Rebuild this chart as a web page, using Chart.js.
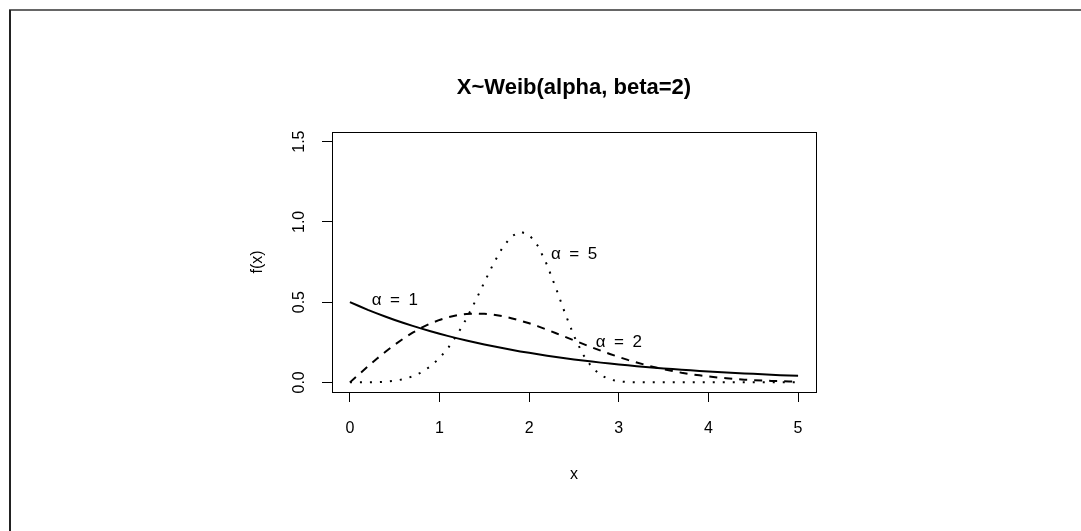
<!DOCTYPE html>
<html>
<head>
<meta charset="utf-8">
<script src="https://cdn.jsdelivr.net/npm/chart.js@4.4.0/dist/chart.umd.min.js"></script>
<style>
body { margin: 0; background: #fff; }
#weibull { display: block; }
</style>
</head>
<body>
<canvas id="weibull" width="1081" height="531"></canvas>
<script>
// valeurs de x (0 a 5)
const xs = [0, 0.1, 0.2, 0.3, 0.4, 0.5, 0.6, 0.7, 0.8, 0.9,
  1.0, 1.1, 1.2, 1.3, 1.4, 1.5, 1.6, 1.7, 1.8, 1.9,
  2.0, 2.1, 2.2, 2.3, 2.4, 2.5, 2.6, 2.7, 2.8, 2.9,
  3.0, 3.1, 3.2, 3.3, 3.4, 3.5, 3.6, 3.7, 3.8, 3.9,
  4.0, 4.1, 4.2, 4.3, 4.4, 4.5, 4.6, 4.7, 4.8, 4.9, 5.0];

// densites
const densAlpha1 = [0.500, 0.476, 0.452, 0.430, 0.409, 0.389, 0.370, 0.352, 0.335, 0.319,
  0.303, 0.288, 0.274, 0.261, 0.248, 0.236, 0.225, 0.214, 0.203, 0.193,
  0.184, 0.175, 0.166, 0.158, 0.151, 0.143, 0.136, 0.130, 0.123, 0.117,
  0.112, 0.106, 0.101, 0.096, 0.091, 0.087, 0.083, 0.079, 0.075, 0.071,
  0.068, 0.064, 0.061, 0.058, 0.055, 0.053, 0.050, 0.048, 0.045, 0.043, 0.041];
const densAlpha2 = [0.000, 0.050, 0.099, 0.147, 0.192, 0.235, 0.274, 0.310, 0.341, 0.368,
  0.389, 0.406, 0.419, 0.426, 0.429, 0.427, 0.422, 0.413, 0.400, 0.385,
  0.368, 0.349, 0.328, 0.306, 0.284, 0.262, 0.240, 0.218, 0.197, 0.177,
  0.158, 0.140, 0.124, 0.108, 0.095, 0.082, 0.071, 0.060, 0.051, 0.044,
  0.037, 0.031, 0.026, 0.021, 0.017, 0.014, 0.012, 0.009, 0.008, 0.006, 0.005];
const densAlpha5 = [0.000, 0.000, 0.000, 0.001, 0.004, 0.010, 0.020, 0.037, 0.063, 0.101,
  0.151, 0.218, 0.300, 0.397, 0.507, 0.624, 0.738, 0.837, 0.909, 0.939,
  0.920, 0.848, 0.731, 0.585, 0.431, 0.289, 0.174, 0.094, 0.044, 0.018,
  0.006, 0.002, 0.001, 0.000, 0.000, 0.000, 0.000, 0.000, 0.000, 0.000,
  0.000, 0.000, 0.000, 0.000, 0.000, 0.000, 0.000, 0.000, 0.000, 0.000, 0.000];

const xTicks = [0, 1, 2, 3, 4, 5];
const yTicks = [0, 0.5, 1.0, 1.5];

const titre = "X~Weib(alpha, beta=2)";

// etiquettes des courbes
const curveLabels = ["\u03B1\u2002=\u20021", "\u03B1\u2002=\u20025", "\u03B1\u2002=\u20022"];
const curveLabelX = [0.50, 2.50, 3.00];
const curveLabelY = [0.51, 0.80, 0.25];

const police = "'Liberation Sans', Arial, Helvetica, sans-serif";

function toPoints(ys) {
    return xs.map((x, i) => ({ x: x, y: ys[i] }));
}

// cadre de la page + boite du graphique + titre + etiquettes
const decor = {
    id: "decor",
    beforeDraw(chart) {
        const ctx = chart.ctx;
        ctx.save();
        ctx.fillStyle = "#fff";
        ctx.fillRect(0, 0, chart.width, chart.height);
        ctx.strokeStyle = "#666";
        ctx.lineWidth = 2;
        ctx.beginPath();
        ctx.moveTo(9, 10);
        ctx.lineTo(chart.width, 10);
        ctx.stroke();
        ctx.strokeStyle = "#222";
        ctx.beginPath();
        ctx.moveTo(10, 10);
        ctx.lineTo(10, chart.height);
        ctx.stroke();
        ctx.restore();
    },
    afterDraw(chart) {
        const ctx = chart.ctx;
        const a = chart.chartArea;
        const sx = chart.scales.x, sy = chart.scales.y;
        ctx.save();
        ctx.strokeStyle = "#000";
        ctx.lineWidth = 1;
        ctx.strokeRect(Math.round(a.left) + 0.5, Math.round(a.top) + 0.5,
            Math.round(a.right - a.left), Math.round(a.bottom - a.top));
        ctx.fillStyle = "#000";
        ctx.textAlign = "center";
        ctx.textBaseline = "middle";
        ctx.font = "bold 22px " + police;
        ctx.fillText(titre, (a.left + a.right) / 2, 88);
        ctx.font = "17px " + police;
        curveLabels.forEach((t, i) => {
            ctx.fillText(t, sx.getPixelForValue(curveLabelX[i]), sy.getPixelForValue(curveLabelY[i]));
        });
        ctx.restore();
    }
};

const ctx = document.getElementById("weibull").getContext("2d");
new Chart(ctx, {
    type: "scatter",
    data: {
        datasets: [
            { label: "alpha=1", data: toPoints(densAlpha1), showLine: true, borderColor: "#000",
              borderWidth: 2, pointRadius: 0, tension: 0 },
            { label: "alpha=2", data: toPoints(densAlpha2), showLine: true, borderColor: "#000",
              borderWidth: 2, borderDash: [8, 7], pointRadius: 0, tension: 0 },
            { label: "alpha=5", data: toPoints(densAlpha5), showLine: true, borderColor: "#000",
              borderWidth: 2, borderDash: [2, 8], pointRadius: 0, tension: 0 }
        ]
    },
    options: {
        responsive: false,
        animation: false,
        layout: { padding: { left: 0, right: 265, top: 132, bottom: 0 } },
        plugins: {
            legend: { display: false },
            tooltip: { enabled: false },
            title: { display: false }
        },
        scales: {
            x: {
                type: "linear",
                min: -0.2,
                max: 5.2,
                afterBuildTicks: (s) => { s.ticks = xTicks.map(v => ({ value: v })); },
                afterFit: (s) => { s.height = 139; },
                grid: { drawOnChartArea: false, tickLength: 10, color: "#000" },
                border: { display: false },
                ticks: { color: "#000", padding: 17, maxRotation: 0, font: { family: police, size: 16 },
                         callback: (v) => String(v) },
                title: { display: true, text: "x", color: "#000", font: { family: police, size: 16 },
                         padding: { top: 0, bottom: 46.4 } }
            },
            y: {
                type: "linear",
                min: -0.06,
                max: 1.56,
                afterBuildTicks: (s) => { s.ticks = yTicks.map(v => ({ value: v })); },
                afterFit: (s) => { s.width = 332; },
                grid: { drawOnChartArea: false, tickLength: 10, color: "#000" },
                border: { display: false },
                ticks: { color: "#000", padding: 11, minRotation: 90, maxRotation: 90, crossAlign: "center",
                         font: { family: police, size: 16 }, callback: (v) => Number(v).toFixed(1) },
                title: { display: true, text: "f(x)", color: "#000", font: { family: police, size: 16 },
                         padding: { top: 248.4, bottom: 0 } }
            }
        }
    },
    plugins: [decor]
});
</script>
</body>
</html>
